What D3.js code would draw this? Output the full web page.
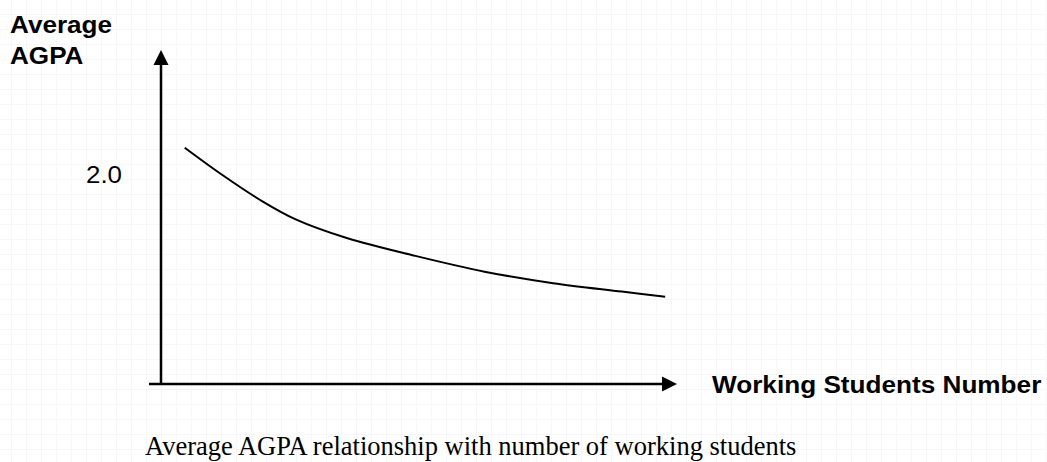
<!DOCTYPE html>
<html lang="en">
<head>
<meta charset="UTF-8">
<title>Average AGPA vs working students</title>
<script src="https://d3js.org/d3.v7.min.js"></script>
<style>
    body { margin: 0; background: #ffffff; }
    svg { display: block; }
    .grid-line { stroke: #f7f7f7; stroke-width: 1; }
    .axis-line { stroke: #000; stroke-width: 2.5; }
    .curve { fill: none; stroke: #000; stroke-width: 2; }
    .lbl { font-family: "Liberation Sans", Arial, sans-serif; font-size: 24px; fill: #000; }
    .bold { font-weight: bold; }
    .caption { font-family: "Liberation Serif", "Times New Roman", serif; font-size: 26.5px; fill: #000; }
</style>
</head>
<body>
<svg id="chart" width="1047" height="462"></svg>
<script>
    // Werte (Zahl arbeitender Studenten -> mittlerer AGPA)
    const students = [4.6, 11.9, 19.3, 26.0, 36.0, 49.3, 62.7, 76.0, 89.3, 97.7];
    const agpa     = [2.25, 1.99, 1.75, 1.57, 1.39, 1.22, 1.07, 0.96, 0.88, 0.83];
    const yTicks = [2.0];
    const yTitle = ["Average", "AGPA"];
    const xTitle = "Working Students Number";
    const caption = "Average AGPA relationship with number of working students";

    const W = 1047, H = 462;
    const svg = d3.select("#chart");

    // schwaches Hintergrundraster
    const grid = svg.append("g");
    d3.range(11, W, 15).forEach(x => {
        grid.append("line").attr("class", "grid-line")
            .attr("x1", x + 0.5).attr("x2", x + 0.5).attr("y1", 0).attr("y2", H);
    });
    d3.range(14, H, 15).forEach(y => {
        grid.append("line").attr("class", "grid-line")
            .attr("x1", 0).attr("x2", W).attr("y1", y + 0.5).attr("y2", y + 0.5);
    });

    const x = d3.scaleLinear().domain([0, 100]).range([161, 677]);
    const y = d3.scaleLinear().domain([0, 2]).range([384, 174]);

    // Achsen mit Pfeilen
    svg.append("line").attr("class", "axis-line")
        .attr("x1", 149).attr("x2", x(100) - 10).attr("y1", y(0)).attr("y2", y(0));
    svg.append("path")
        .attr("d", `M${x(100)},${y(0)} L${x(100) - 15},${y(0) - 7.5} L${x(100) - 15},${y(0) + 7.5} Z`)
        .attr("fill", "#000");

    svg.append("line").attr("class", "axis-line")
        .attr("x1", x(0)).attr("x2", x(0)).attr("y1", y(0)).attr("y2", 60);
    svg.append("path")
        .attr("d", `M${x(0)},50 L${x(0) - 7.5},65 L${x(0) + 7.5},65 Z`)
        .attr("fill", "#000");

    // Kurve
    const line = d3.line()
        .x((d, i) => x(students[i]))
        .y(d => y(d))
        .curve(d3.curveCatmullRom.alpha(0.5));
    svg.append("path").datum(agpa).attr("class", "curve").attr("d", line);

    // Texte (leicht in die Breite gezogen wie im Original)
    function stretched(cls, tx, ty, s, txt) {
        svg.append("text").attr("class", cls)
            .attr("transform", `translate(${tx},${ty}) scale(${s},1)`)
            .text(txt);
    }

    yTicks.forEach(t => stretched("lbl", 86, y(t) + 9, 1.08, t.toFixed(1)));

    stretched("lbl bold", 10, 33, 1.088, yTitle[0]);
    stretched("lbl bold", 10, 64, 1.088, yTitle[1]);
    stretched("lbl bold", 712, 393, 1.09, xTitle);

    svg.append("text").attr("class", "caption")
        .attr("x", 145).attr("y", 455)
        .text(caption);
</script>
</body>
</html>
